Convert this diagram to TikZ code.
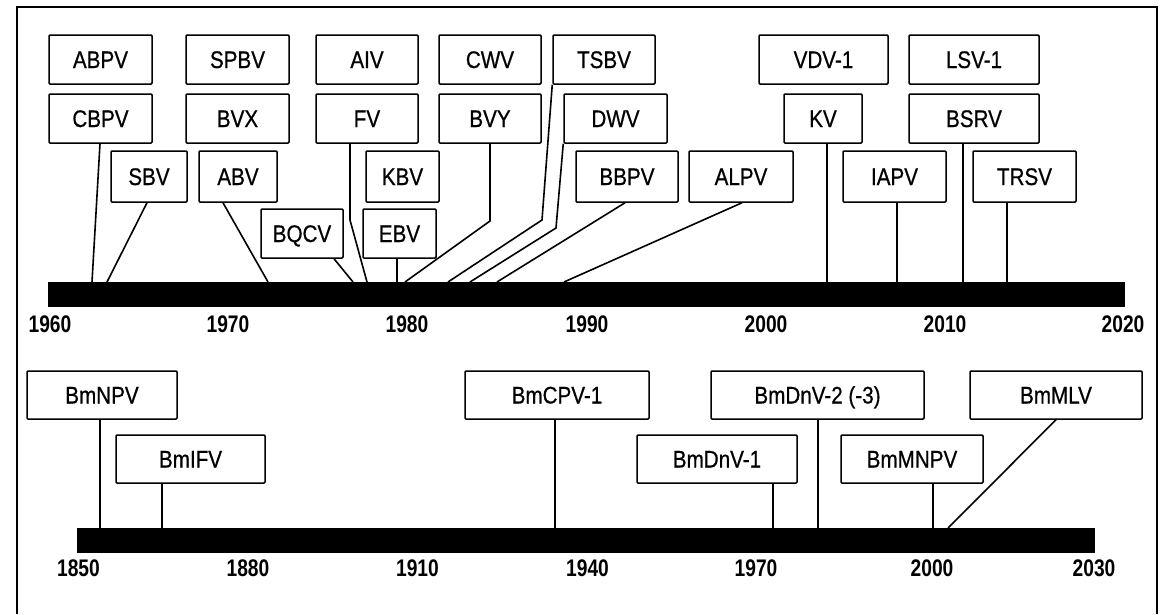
\documentclass[tikz,border=0pt]{standalone}
\usepackage{fontspec}
\newfontfamily\boxfont{Liberation Sans}[FakeStretch=0.86,FakeBold=0.6]
\newfontfamily\yearfont{Liberation Sans}[FakeStretch=0.8]
\begin{document}
\begin{tikzpicture}[x=1pt,y=-1pt,
  vbox/.style={draw=black, line width=1.5pt, rounded corners=1pt, inner sep=0pt,
    font=\boxfont\fontsize{24}{28}\selectfont, text height=17pt, text depth=0pt},
  yr/.style={inner sep=0pt, font=\yearfont\bfseries\fontsize{24}{28}\selectfont, text height=17pt, text depth=0pt},
  conn/.style={line width=1.6pt},
  bar/.style={fill=black, draw=none}]
\useasboundingbox (0,0) rectangle (1167,614);
\fill[white] (0,0) rectangle (1167,614);
\draw[line width=1.8pt] (17,614) -- (17,7) -- (1157,7) -- (1157,614);

% ---------- top timeline ----------
\fill[bar] (48,282) rectangle (1125,307);
\foreach \y/\x in {1960/50,1970/228,1980/407,1990/587,2000/766,2010/945,2020/1123}
  \node[yr] (t\y) at (\x,323.5) {\y};

% row 1
\node[vbox, minimum width=103pt, minimum height=49pt] (ABPV) at (100.5,59.5) {ABPV};
\node[vbox, minimum width=103pt, minimum height=49pt] (SPBV) at (237.5,59.5) {SPBV};
\node[vbox, minimum width=102pt, minimum height=49pt] (AIV) at (367,59.5) {AIV};
\node[vbox, minimum width=102pt, minimum height=49pt] (CWV) at (490,59.5) {CWV};
\node[vbox, minimum width=102pt, minimum height=49pt] (TSBV) at (604,59.5) {TSBV};
\node[vbox, minimum width=129pt, minimum height=49pt] (VDV) at (823.5,59.5) {VDV-1};
\node[vbox, minimum width=130pt, minimum height=49pt] (LSV) at (974,59.5) {LSV-1};
% row 2
\node[vbox, minimum width=103pt, minimum height=49pt] (CBPV) at (100.5,118.5) {CBPV};
\node[vbox, minimum width=103pt, minimum height=49pt] (BVX) at (237.5,118.5) {BVX};
\node[vbox, minimum width=102pt, minimum height=49pt] (FV) at (367,118.5) {FV};
\node[vbox, minimum width=102pt, minimum height=49pt] (BVY) at (490,118.5) {BVY};
\node[vbox, minimum width=103pt, minimum height=49pt] (DWV) at (615.5,118.5) {DWV};
\node[vbox, minimum width=78pt, minimum height=49pt] (KV) at (823,118.5) {KV};
\node[vbox, minimum width=130pt, minimum height=49pt] (BSRV) at (974,118.5) {BSRV};
% row 3
\node[vbox, minimum width=76pt, minimum height=51pt] (SBV) at (149,176.5) {SBV};
\node[vbox, minimum width=78pt, minimum height=51pt] (ABV) at (238,176.5) {ABV};
\node[vbox, minimum width=73pt, minimum height=51pt] (KBV) at (402.5,176.5) {KBV};
\node[vbox, minimum width=102pt, minimum height=51pt] (BBPV) at (627,176.5) {BBPV};
\node[vbox, minimum width=104pt, minimum height=51pt] (ALPV) at (741,176.5) {ALPV};
\node[vbox, minimum width=103pt, minimum height=51pt] (IAPV) at (894.5,176.5) {IAPV};
\node[vbox, minimum width=103pt, minimum height=51pt] (TRSV) at (1024.5,176.5) {TRSV};
% row 4
\node[vbox, minimum width=82pt, minimum height=49pt] (BQCV) at (302,233.5) {BQCV};
\node[vbox, minimum width=73pt, minimum height=49pt] (EBV) at (399.5,233.5) {EBV};

% connectors (top)
\draw[conn] (CBPV.south -| 100,0) -- (92,282);
\draw[conn] (SBV.south -| 147,0) -- (107,282);
\draw[conn] (ABV.south -| 223,0) -- (268,282);
\draw[conn] (BQCV.south -| 334,0) -- (353,282);
\draw[conn] (FV.south -| 350,0) -- (350,220) -- (367,282);
\draw[conn] (EBV.south -| 397,0) -- (397,282);
\draw[conn] (BVY.south -| 490,0) -- (490,221) -- (405,282);
\draw[conn] (TSBV.south west) -- (542,220) -- (448,282);
\draw[conn] (DWV.south west) -- (556,228) -- (470,282);
\draw[conn] (BBPV.south -| 625,0) -- (497,282);
\draw[conn] (ALPV.south -| 742,0) -- (564,282);
\draw[conn] (KV.south -| 827,0) -- (827,282);
\draw[conn] (IAPV.south -| 897,0) -- (897,282);
\draw[conn] (BSRV.south -| 963,0) -- (963,282);
\draw[conn] (TRSV.south -| 1007,0) -- (1007,282);

% ---------- bottom timeline ----------
\fill[bar] (77,528) rectangle (1095,553);
\foreach \y/\x in {1850/78.5,1880/248,1910/417.5,1940/587.5,1970/756,2000/932,2030/1094}
  \node[yr] (b\y) at (\x,568) {\y};

\node[vbox, minimum width=150pt, minimum height=48pt] (BmNPV) at (102,395) {BmNPV};
\node[vbox, minimum width=184pt, minimum height=48pt] (BmCPV) at (557,395) {BmCPV-1};
\node[vbox, minimum width=213pt, minimum height=48pt] (BmDnVb) at (817.5,395) {BmDnV-2 (-3)};
\node[vbox, minimum width=172pt, minimum height=48pt] (BmMLV) at (1056,395) {BmMLV};
\node[vbox, minimum width=149pt, minimum height=48pt] (BmIFV) at (190.5,459) {BmIFV};
\node[vbox, minimum width=160pt, minimum height=48pt] (BmDnVa) at (717,459) {BmDnV-1};
\node[vbox, minimum width=142pt, minimum height=48pt] (BmMNPV) at (912,459) {BmMNPV};

\draw[conn] (BmNPV.south -| 100,0) -- (100,528);
\draw[conn] (BmIFV.south -| 162,0) -- (162,528);
\draw[conn] (BmCPV.south -| 555,0) -- (555,528);
\draw[conn] (BmDnVa.south -| 773,0) -- (773,528);
\draw[conn] (BmDnVb.south -| 818,0) -- (818,528);
\draw[conn] (BmMNPV.south -| 933,0) -- (933,528);
\draw[conn] (BmMLV.south -| 1056,0) -- (948,528);
\end{tikzpicture}
\end{document}
